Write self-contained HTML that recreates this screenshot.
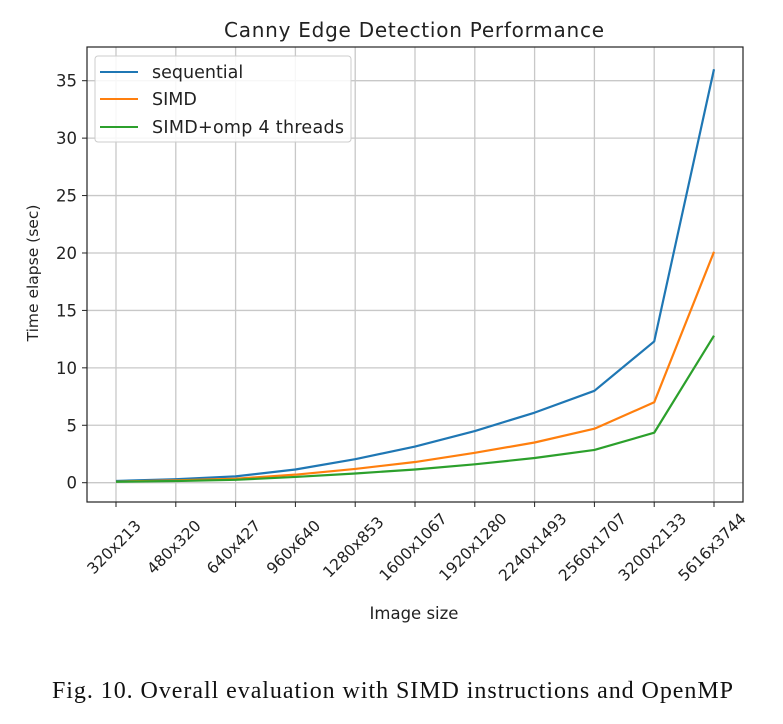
<!DOCTYPE html>
<html><head><meta charset="utf-8"><style>
body{margin:0;background:#fff;}
svg{display:block;font-family:"DejaVu Sans","Liberation Sans",sans-serif;}
</style></head><body>
<svg id="chart" width="783" height="724">
<rect width="783" height="724" fill="#fff"/>
<g id="grid"></g>
<g id="lines"></g>
<g id="axes"></g>
<text x="414" y="37" font-size="20" text-anchor="middle" fill="#222" textLength="380">Canny Edge Detection Performance</text>
<text x="414" y="619" font-size="16.5" text-anchor="middle" fill="#222">Image size</text>
<text transform="translate(38,273) rotate(-90)" font-size="15.5" text-anchor="middle" fill="#222">Time elapse (sec)</text>
<g>
<rect x="95" y="56" width="256" height="86" rx="3" fill="#fff" fill-opacity="0.85" stroke="#ccc"/>
<line x1="100" y1="72" x2="138" y2="72" stroke="#1f77b4" stroke-width="2"/>
<text x="152" y="78" font-size="17.5" fill="#222">sequential</text>
<line x1="100" y1="99" x2="138" y2="99" stroke="#ff7f0e" stroke-width="2"/>
<text x="152" y="105" font-size="17.5" fill="#222">SIMD</text>
<line x1="100" y1="127" x2="138" y2="127" stroke="#2ca02c" stroke-width="2"/>
<text x="152" y="133" font-size="17.5" fill="#222" textLength="192">SIMD+omp 4 threads</text>
</g>
<text x="52" y="698" font-size="24" fill="#111" font-family="Liberation Serif,serif" textLength="681">Fig. 10.  Overall evaluation with SIMD instructions and OpenMP</text>
</svg>
<script>
const categories=["320x213","480x320","640x427","960x640","1280x853","1600x1067","1920x1280","2240x1493","2560x1707","3200x2133","5616x3744"];
const sequential=[0.15,0.3,0.55,1.15,2.05,3.15,4.5,6.1,8.0,12.3,36.0];
const simd=[0.1,0.2,0.35,0.7,1.2,1.8,2.6,3.5,4.7,7.0,20.1];
const simdOmp=[0.08,0.15,0.25,0.5,0.8,1.15,1.6,2.15,2.85,4.35,12.8];
const yTicks=[0,5,10,15,20,25,30,35];
const NS="http://www.w3.org/2000/svg";
const L=87,R=743,T=47,B=502;
function xs(i){return 116+i*59.8;}
function ys(v){return 482.7-v*(482.7-80.7)/35;}
function mk(tag,attrs,parent){const e=document.createElementNS(NS,tag);for(const k in attrs)e.setAttribute(k,attrs[k]);parent.appendChild(e);return e;}
const grid=document.getElementById('grid'),axes=document.getElementById('axes'),lines=document.getElementById('lines');
categories.forEach((c,i)=>{
 const x=xs(i);
 const g=mk('line',{x1:x,x2:x,y1:T,y2:B,stroke:'#c8c8c8','stroke-width':1.3},grid);
 
 
 mk('line',{x1:x,x2:x,y1:B,y2:B+5,stroke:'#222','stroke-width':1},axes);
 const t=mk('text',{transform:`translate(${x-2},${B+45}) rotate(-45)`,'font-size':15.5,'text-anchor':'middle',fill:'#222',dy:'0.35em'},axes);
 t.textContent=c;
 
 
});
yTicks.forEach(v=>{
 const y=ys(v);
 const g=mk('line',{x1:L,x2:R,y1:y,y2:y,stroke:'#c8c8c8','stroke-width':1.3},grid);
 
 
 mk('line',{x1:L-5,x2:L,y1:y,y2:y,stroke:'#222','stroke-width':1},axes);
 const t=mk('text',{x:L-10,y:y+6,'font-size':16.5,'text-anchor':'end',fill:'#222'},axes);
 t.textContent=v;
 
 
});
const frame=mk('rect',{x:L,y:T,width:R-L,height:B-T,fill:'none',stroke:'#222','stroke-width':1.2},axes);


[[sequential,'#1f77b4','sequential-line'],[simd,'#ff7f0e','simd-line'],[simdOmp,'#2ca02c','simd-omp-line']].forEach(([d,col,name])=>{
 const p=mk('polyline',{points:d.map((v,i)=>xs(i)+','+ys(v)).join(' '),fill:'none',stroke:col,'stroke-width':2.2,'stroke-linejoin':'round'},lines);
 
 
});
</script>
</body></html>
